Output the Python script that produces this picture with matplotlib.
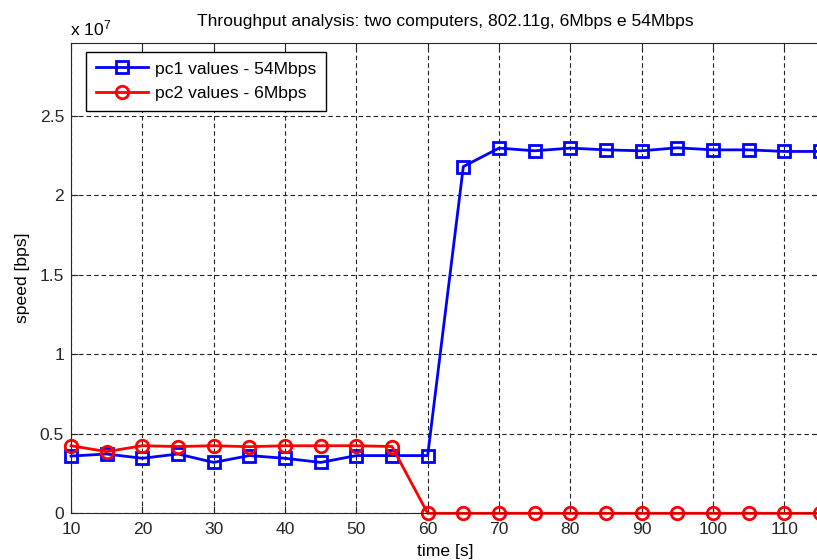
import matplotlib
matplotlib.use("Agg")
import matplotlib.pyplot as plt
import numpy as np

# time axis and measured throughput (in units of 1e7 bps)
time_s = [10, 15, 20, 25, 30, 35, 40, 45, 50, 55, 60,
          65, 70, 75, 80, 85, 90, 95, 100, 105, 110, 115]
pc1_speed = [0.360, 0.373, 0.346, 0.373, 0.320, 0.363, 0.346, 0.320, 0.363, 0.363, 0.363,
             2.181, 2.297, 2.280, 2.297, 2.286, 2.280, 2.299, 2.286, 2.286, 2.276, 2.276]
pc2_speed = [0.425, 0.388, 0.425, 0.420, 0.425, 0.419, 0.425, 0.425, 0.425, 0.420, 0.0,
             0.0, 0.0, 0.0, 0.0, 0.0, 0.0, 0.0, 0.0, 0.0, 0.0, 0.0]

plt.rcParams['font.family'] = ['Liberation Sans', 'DejaVu Sans']
plt.rcParams['mathtext.fontset'] = 'custom'
plt.rcParams['mathtext.rm'] = 'Liberation Sans'
plt.rcParams['mathtext.it'] = 'Liberation Sans:italic'
fs = 12.6

fig = plt.figure(figsize=(8.17, 5.6), dpi=100)
ax = fig.add_axes([71 / 817, 46.7 / 560, 749 / 817, 470.6 / 560])

ax.plot(time_s, pc1_speed, color='#0000ff', lw=2, marker='s', ms=9,
        mfc='none', mew=2, label='pc1 values - 54Mbps', clip_on=False)
ax.plot(time_s, pc2_speed, color='#ff0000', lw=2, marker='o', ms=9,
        mfc='none', mew=2, label='pc2 values - 6Mbps', clip_on=False)

ax.set_xlim(10, 115)
ax.set_ylim(0, 2.96)
ax.set_xticks(np.arange(10, 111, 10))
ax.set_yticks([0, 0.5, 1, 1.5, 2, 2.5])
ax.set_yticklabels(['0', '0.5', '1', '1.5', '2', '2.5'])
ax.tick_params(direction='in', length=5, labelsize=fs, colors='#262626',
               top=True, right=True)
ax.tick_params(axis='x', pad=6)
ax.tick_params(axis='y', pad=5)
ax.grid(True, color='#222222', linestyle=(0, (4, 2.8)), linewidth=0.8)
for s in ax.spines.values():
    s.set_color('#262626')

ax.set_title('Throughput analysis: two computers, 802.11g, 6Mbps e 54Mbps',
             fontsize=fs, pad=12)
ax.set_xlabel('time [s]', fontsize=fs, labelpad=5)
ax.set_ylabel('speed [bps]', fontsize=fs, labelpad=7)
fig.text(70 / 817, 1 - 35 / 560, r'x $\mathrm{10^7}$', fontsize=fs, ha='left')

leg = ax.legend(loc='upper left', fontsize=fs, fancybox=False, framealpha=1,
                edgecolor='black', bbox_to_anchor=(15 / 749, 1 - 9 / 470.6),
                borderaxespad=0, borderpad=0.55, labelspacing=0.55,
                handlelength=3.0, handletextpad=0.4)
leg.get_frame().set_linewidth(1)

fig.savefig('out.png', dpi=100)
